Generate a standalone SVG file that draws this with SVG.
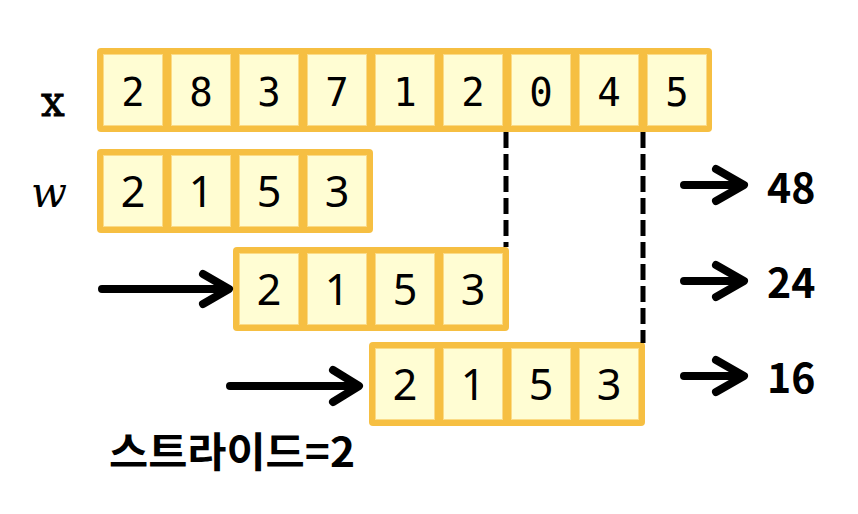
<svg xmlns="http://www.w3.org/2000/svg" width="858" height="514" viewBox="0 0 858 514">
<style>
.frame{fill:#F6BF42;}
.cell{fill:#FFFDD3;stroke:#FBDB86;stroke-width:1;}
.mono{font-family:"DejaVu Sans Mono","Liberation Mono",monospace;font-size:39px;fill:#000;text-anchor:middle;}
.num{font-family:"Noto Sans","Noto Sans CJK KR",sans-serif;font-size:43px;fill:#000;text-anchor:middle;}
.res{font-family:"Noto Sans CJK KR","Noto Sans",sans-serif;font-size:41px;font-weight:bold;fill:#000;}
.lbl{font-family:"DejaVu Serif","Liberation Serif",serif;font-size:42px;fill:#000;}
.arr{fill:none;stroke:#000;stroke-width:8;stroke-linecap:round;stroke-linejoin:round;}
.dash{stroke:#000;stroke-width:5;stroke-dasharray:16 6;fill:none;}
</style>
<defs>
<g id="w4">
<rect class="frame" x="0" y="0" width="276" height="84" rx="4"/>
<rect class="cell" x="6.5" y="6.5" width="59" height="71"/>
<rect class="cell" x="74.5" y="6.5" width="59" height="71"/>
<rect class="cell" x="142.5" y="6.5" width="59" height="71"/>
<rect class="cell" x="210.5" y="6.5" width="59" height="71"/>
<text class="num" x="36" y="58">2</text>
<text class="num" x="104" y="58">1</text>
<text class="num" x="172" y="58">5</text>
<text class="num" x="240" y="58">3</text>
</g>
</defs>
<g id="label-x"><text class="lbl" x="41" y="116" stroke="#000" stroke-width="0.8">x</text></g>
<g id="label-w"><text class="lbl" x="31" y="207" style="font-style:italic">w</text></g>
<g id="row-x">
<rect class="frame" x="97" y="48" width="615" height="84" rx="4"/>
<rect class="cell" x="103.5" y="54.5" width="59" height="71"/>
<rect class="cell" x="171.5" y="54.5" width="59" height="71"/>
<rect class="cell" x="239.5" y="54.5" width="59" height="71"/>
<rect class="cell" x="307.5" y="54.5" width="59" height="71"/>
<rect class="cell" x="375.5" y="54.5" width="59" height="71"/>
<rect class="cell" x="443.5" y="54.5" width="59" height="71"/>
<rect class="cell" x="511.5" y="54.5" width="59" height="71"/>
<rect class="cell" x="579.5" y="54.5" width="59" height="71"/>
<rect class="cell" x="647.5" y="54.5" width="59" height="71"/>
<text class="mono" x="133" y="106">2</text>
<text class="mono" x="201" y="106">8</text>
<text class="mono" x="269" y="106">3</text>
<text class="mono" x="337" y="106">7</text>
<text class="mono" x="405" y="106">1</text>
<text class="mono" x="473" y="106">2</text>
<text class="mono" x="541" y="106">0</text>
<text class="mono" x="609" y="106">4</text>
<text class="mono" x="677" y="106">5</text>
</g>
<g id="row-w"><use href="#w4" x="97" y="149"/></g>
<g id="row-w2"><use href="#w4" x="233" y="247"/></g>
<g id="row-w3"><use href="#w4" x="369" y="342"/></g>
<g id="connectors">
<path class="dash" d="M506 132V247"/>
<path class="dash" d="M643 132V343"/>
<path class="arr" d="M102 289H228M203 274L229 289L203 304"/>
<path class="arr" d="M230 386H358M333 370L359 386L333 402"/>
<path class="arr" d="M684 185H743M716 169L744 185L716 201"/>
<path class="arr" d="M684 281H743M716 265L744 281L716 297"/>
<path class="arr" d="M684 376H743M716 360L744 376L716 392"/>
</g>
<g id="results">
<text class="res" x="767" y="203">48</text>
<text class="res" x="767" y="298">24</text>
<text class="res" x="767" y="393">16</text>
</g>
<g id="stride"><text class="res" x="109" y="467" textLength="246" lengthAdjust="spacingAndGlyphs">스트라이드=2</text></g>
</svg>
